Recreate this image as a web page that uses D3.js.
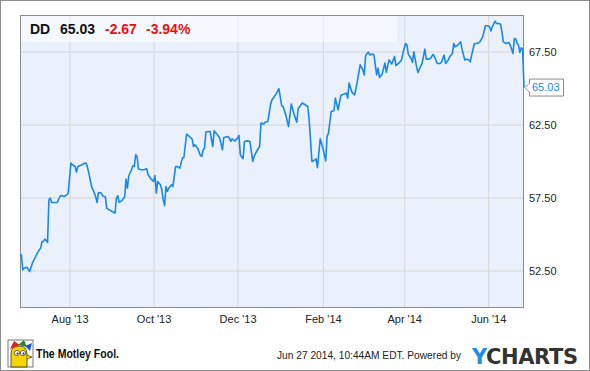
<!DOCTYPE html>
<html>
<head>
<meta charset="utf-8">
<script src="https://cdn.jsdelivr.net/npm/d3@7"></script>
<style>
  body { margin: 0; background: #fff; }
  svg { display: block; font-family: "Liberation Sans", Arial, sans-serif; }
</style>
</head>
<body>
<div id="chart"></div>
<script>
// ticker header
const symbol = "DD";
const lastPrice = 65.03;
const change = -2.67;
const changePct = -3.94;
const stamp = "Jun 27 2014, 10:44AM EDT. Powered by";

// daily closes
const dates = [
  "2013-06-26","2013-06-27","2013-06-28","2013-06-29","2013-07-01","2013-07-03","2013-07-05","2013-07-08",
  "2013-07-10","2013-07-11","2013-07-12","2013-07-13","2013-07-14","2013-07-15","2013-07-16","2013-07-17",
  "2013-07-18","2013-07-19","2013-07-21","2013-07-23","2013-07-25","2013-07-26","2013-07-28","2013-07-30",
  "2013-07-31","2013-08-02","2013-08-03","2013-08-05","2013-08-06","2013-08-07","2013-08-10","2013-08-11",
  "2013-08-13","2013-08-14","2013-08-16","2013-08-17","2013-08-19","2013-08-20","2013-08-21","2013-08-22",
  "2013-08-24","2013-08-25","2013-08-27","2013-08-28","2013-08-29","2013-08-31","2013-09-03","2013-09-04",
  "2013-09-05","2013-09-06","2013-09-08","2013-09-10","2013-09-11","2013-09-12","2013-09-13","2013-09-15",
  "2013-09-16","2013-09-17","2013-09-18","2013-09-19","2013-09-20","2013-09-22","2013-09-24","2013-09-26",
  "2013-09-27","2013-09-29","2013-10-01","2013-10-02","2013-10-03","2013-10-04","2013-10-06","2013-10-07",
  "2013-10-08","2013-10-09","2013-10-10","2013-10-11","2013-10-12","2013-10-14","2013-10-15","2013-10-17",
  "2013-10-18","2013-10-20","2013-10-22","2013-10-23","2013-10-25","2013-10-27","2013-10-29","2013-10-30",
  "2013-10-31","2013-11-02","2013-11-04","2013-11-05","2013-11-06","2013-11-07","2013-11-08","2013-11-10",
  "2013-11-11","2013-11-13","2013-11-14","2013-11-16","2013-11-18","2013-11-20","2013-11-21","2013-11-24",
  "2013-11-25","2013-11-26","2013-11-27","2013-11-29","2013-12-01","2013-12-02","2013-12-03","2013-12-05",
  "2013-12-06","2013-12-08","2013-12-10","2013-12-12","2013-12-13","2013-12-15","2013-12-17","2013-12-18",
  "2013-12-20","2013-12-21","2013-12-23","2013-12-25","2013-12-26","2013-12-27","2013-12-29","2013-12-31",
  "2014-01-02","2014-01-03","2014-01-05","2014-01-07","2014-01-09","2014-01-11","2014-01-13","2014-01-14",
  "2014-01-17","2014-01-19","2014-01-21","2014-01-22","2014-01-24","2014-01-26","2014-01-27","2014-01-28",
  "2014-01-30","2014-02-01","2014-02-03","2014-02-04","2014-02-05","2014-02-07","2014-02-09","2014-02-10",
  "2014-02-12","2014-02-14","2014-02-16","2014-02-18","2014-02-19","2014-02-20","2014-02-22","2014-02-24",
  "2014-02-26","2014-02-28","2014-03-02","2014-03-03","2014-03-04","2014-03-06","2014-03-07","2014-03-09",
  "2014-03-10","2014-03-12","2014-03-13","2014-03-14","2014-03-16","2014-03-18","2014-03-19","2014-03-21",
  "2014-03-23","2014-03-25","2014-03-26","2014-03-28","2014-03-30","2014-03-31","2014-04-02","2014-04-03",
  "2014-04-04","2014-04-06","2014-04-07","2014-04-08","2014-04-10","2014-04-11","2014-04-12","2014-04-14",
  "2014-04-16","2014-04-17","2014-04-19","2014-04-20","2014-04-22","2014-04-23","2014-04-25","2014-04-27",
  "2014-04-28","2014-04-30","2014-05-01","2014-05-03","2014-05-04","2014-05-06","2014-05-07","2014-05-08",
  "2014-05-10","2014-05-12","2014-05-13","2014-05-15","2014-05-16","2014-05-18","2014-05-19","2014-05-20",
  "2014-05-22","2014-05-24","2014-05-26","2014-05-28","2014-05-30","2014-06-01","2014-06-02","2014-06-03",
  "2014-06-04","2014-06-06","2014-06-07","2014-06-09","2014-06-10","2014-06-11","2014-06-12","2014-06-14",
  "2014-06-16","2014-06-17","2014-06-19","2014-06-20","2014-06-21","2014-06-22","2014-06-23","2014-06-24",
  "2014-06-25","2014-06-26","2014-06-27"
];
const prices = [
  53.58,53.58,52.55,52.66,52.73,52.43,53.00,53.58,
  53.92,54.03,54.49,54.49,54.65,54.56,54.42,57.34,
  57.46,57.16,57.16,57.16,57.57,57.64,57.57,57.68,
  57.80,59.86,59.74,59.62,59.24,59.62,59.74,59.81,
  59.86,59.58,58.71,58.25,57.80,57.53,57.16,57.84,
  57.80,57.62,57.53,56.77,56.70,56.59,56.43,57.46,
  57.62,57.16,57.29,57.53,58.76,58.14,58.99,59.40,
  59.67,59.62,60.42,60.31,59.45,59.40,59.40,59.47,
  59.06,58.78,58.60,59.01,57.80,58.60,58.37,58.03,
  57.34,56.95,58.25,57.91,58.14,58.37,58.25,59.62,
  59.62,59.51,60.20,60.24,61.84,61.68,61.50,60.99,
  61.11,60.88,60.38,60.31,60.77,60.88,61.98,62.02,
  62.02,60.99,62.07,61.84,61.57,60.77,61.61,61.68,
  61.57,61.34,61.52,61.38,61.57,61.75,60.42,60.15,
  61.34,61.38,61.34,59.97,60.31,60.70,60.99,62.60,
  62.53,62.66,62.71,63.90,64.19,64.31,64.58,64.95,
  63.80,63.73,63.16,62.36,63.90,63.21,62.66,63.58,
  63.97,63.85,63.73,62.82,59.97,60.08,60.15,59.55,
  61.52,60.88,60.01,61.68,61.91,63.39,63.44,64.31,
  63.51,64.49,64.58,64.65,64.31,65.34,64.72,64.53,
  65.45,66.59,66.25,65.90,67.23,67.46,67.27,67.32,
  67.27,65.90,66.36,65.72,65.95,66.71,66.09,66.93,
  66.64,67.16,66.54,66.68,66.91,67.36,68.05,67.94,
  67.30,67.02,66.75,67.48,66.45,66.06,66.29,66.68,
  67.66,66.98,66.98,67.02,67.30,67.14,66.68,66.68,
  66.75,67.25,66.68,66.91,67.14,67.36,68.05,67.82,
  67.94,68.16,67.66,66.91,66.98,66.91,66.79,67.25,
  68.05,68.05,68.16,68.50,69.26,69.26,69.19,68.90,
  69.19,69.58,69.42,69.42,69.35,68.85,68.16,68.05,
  68.12,67.94,67.36,68.39,68.35,68.05,67.94,67.43,
  67.75,67.66,65.03
];

const xTickDates = ["2013-08-01","2013-10-01","2013-12-01","2014-02-01","2014-04-01","2014-06-01"];
const yTickValues = [52.5, 57.5, 62.5, 67.5];
const xExtent = ["2013-06-26", "2014-06-27"];
const yExtent = [50, 70];

const width = 590, height = 371;
const margin = { top: 15, right: 66, bottom: 64, left: 20 };
const parse = d3.timeParse("%Y-%m-%d");
const data = dates.map((d, i) => ({ date: parse(d), value: prices[i] }));

const x = d3.scaleTime()
    .domain(xExtent.map(parse))
    .range([margin.left, width - margin.right]);
const y = d3.scaleLinear()
    .domain(yExtent)
    .range([height - margin.bottom, margin.top]);

const blue = "#1888e8";

const svg = d3.select("#chart").append("svg")
    .attr("width", width)
    .attr("height", height);

// outer frame
svg.append("rect")
    .attr("x", 0.5).attr("y", 0.5)
    .attr("width", width - 1).attr("height", height - 1)
    .attr("fill", "#fff")
    .attr("stroke", "#8c8c8c");

// plot background
svg.append("rect")
    .attr("x", margin.left).attr("y", margin.top)
    .attr("width", x.range()[1] - margin.left)
    .attr("height", y.range()[0] - margin.top)
    .attr("fill", "#eaf1fc");

// grid + axes
const xAxis = d3.axisBottom(x)
    .tickValues(xTickDates.map(parse))
    .tickFormat(d3.timeFormat("%b '%y"))
    .tickSizeInner(-(y.range()[0] - margin.top))
    .tickSizeOuter(0)
    .tickPadding(8);

const yAxis = d3.axisRight(y)
    .tickValues(yTickValues)
    .tickFormat(d3.format(".2f"))
    .tickSizeInner(-(x.range()[1] - margin.left))
    .tickSizeOuter(0)
    .tickPadding(5);

const gx = svg.append("g")
    .attr("transform", `translate(0,${y.range()[0]})`)
    .call(xAxis);
const gy = svg.append("g")
    .attr("transform", `translate(${x.range()[1]},0)`)
    .call(yAxis);

[gx, gy].forEach(g => {
    g.select(".domain").remove();
    g.selectAll(".tick line").attr("stroke", "#d6d6d6");
    g.selectAll(".tick text")
        .attr("fill", "#222")
        .style("font-size", "11px")
        .style("font-family", "'Liberation Sans', Arial, sans-serif");
});

// header band
svg.append("rect")
    .attr("x", margin.left).attr("y", margin.top)
    .attr("width", 377).attr("height", 27)
    .attr("fill", "#fff")
    .attr("opacity", 0.5);

// plot border
svg.append("rect")
    .attr("x", margin.left + 0.5).attr("y", margin.top + 0.5)
    .attr("width", x.range()[1] - margin.left - 1)
    .attr("height", y.range()[0] - margin.top)
    .attr("fill", "none")
    .attr("stroke", "#8c8c8c");

// price line
const line = d3.line()
    .x(d => x(d.date))
    .y(d => y(d.value));

svg.append("path")
    .datum(data)
    .attr("d", line)
    .attr("fill", "none")
    .attr("stroke", blue)
    .attr("stroke-width", 1.6)
    .attr("stroke-linejoin", "round");

// last price tag
const last = data[data.length - 1];
const lx = x(last.date), ly = y(last.value);
svg.append("path")
    .attr("d", `M${lx + 1},${ly} L${lx + 5.5},${ly - 4.5} L${lx + 5.5},${ly - 8.5} L${lx + 39.5},${ly - 8.5} L${lx + 39.5},${ly + 8.5} L${lx + 5.5},${ly + 8.5} L${lx + 5.5},${ly + 4.5} Z`)
    .attr("fill", "#fff")
    .attr("stroke", "#8c8c8c");
svg.append("text")
    .attr("x", lx + 8).attr("y", ly)
    .attr("dy", "0.35em")
    .style("font-size", "11px")
    .attr("fill", blue)
    .text(lastPrice.toFixed(2));

// ticker header
const head = svg.append("text")
    .attr("x", 30).attr("y", 34)
    .style("font-size", "14px")
    .style("font-weight", "bold");
head.append("tspan").attr("fill", "#111").text(symbol);
head.append("tspan").attr("x", 60).attr("fill", "#111").text(lastPrice.toFixed(2));
head.append("tspan").attr("x", 105).attr("fill", "#e8100f").text(change.toFixed(2));
head.append("tspan").attr("x", 146).attr("fill", "#e8100f").text(changePct.toFixed(2) + "%");

// footer: timestamp + YCHARTS
svg.append("text")
    .attr("x", 277).attr("y", 359)
    .style("font-size", "10.2px")
    .attr("fill", "#222")
    .text(stamp);

const yc = svg.append("text")
    .attr("x", 472).attr("y", 364)
    .attr("textLength", 106)
    .attr("lengthAdjust", "spacing")
    .style("font-size", "21px")
    .style("font-weight", "bold")
    .style("font-family", "'DejaVu Sans', sans-serif");
yc.append("tspan").attr("fill", "#1c8ee6").text("Y");
yc.append("tspan").attr("fill", "#333").text("CHARTS");

// footer: Motley Fool mark
const fool = svg.append("g").attr("transform", "translate(8,340)");
fool.append("rect").attr("width", 25).attr("height", 27).attr("fill", "#fff").attr("stroke", "#555").attr("stroke-width", 0.8);
fool.append("path").attr("d", "M3,27 L3,14 Q3,6 11,6 Q19,6 19,14 L19,27 Z").attr("fill", "#f5d400").attr("stroke", "#333").attr("stroke-width", 0.8);
fool.append("path").attr("d", "M2,9 L6,1 L12,5 Z").attr("fill", "#d22");
fool.append("path").attr("d", "M10,5 L16,0 L19,7 Z").attr("fill", "#2a8a2a");
fool.append("path").attr("d", "M17,6 L24,3 L22,11 Z").attr("fill", "#2255cc");
fool.append("circle").attr("cx", 9).attr("cy", 13).attr("r", 2.6).attr("fill", "#fff").attr("stroke", "#333").attr("stroke-width", 0.7);
fool.append("circle").attr("cx", 15).attr("cy", 13).attr("r", 2.6).attr("fill", "#fff").attr("stroke", "#333").attr("stroke-width", 0.7);
fool.append("circle").attr("cx", 9.5).attr("cy", 13.5).attr("r", 1).attr("fill", "#222");
fool.append("circle").attr("cx", 15.5).attr("cy", 13.5).attr("r", 1).attr("fill", "#222");
fool.append("path").attr("d", "M19,15 L24,17 L19,19").attr("fill", "#f5d400").attr("stroke", "#333").attr("stroke-width", 0.7);

svg.append("text")
    .attr("x", 36).attr("y", 358)
    .attr("textLength", 83)
    .attr("lengthAdjust", "spacingAndGlyphs")
    .style("font-size", "12px")
    .style("font-weight", "bold")
    .attr("fill", "#111")
    .text("The Motley Fool.");
</script>
</body>
</html>
